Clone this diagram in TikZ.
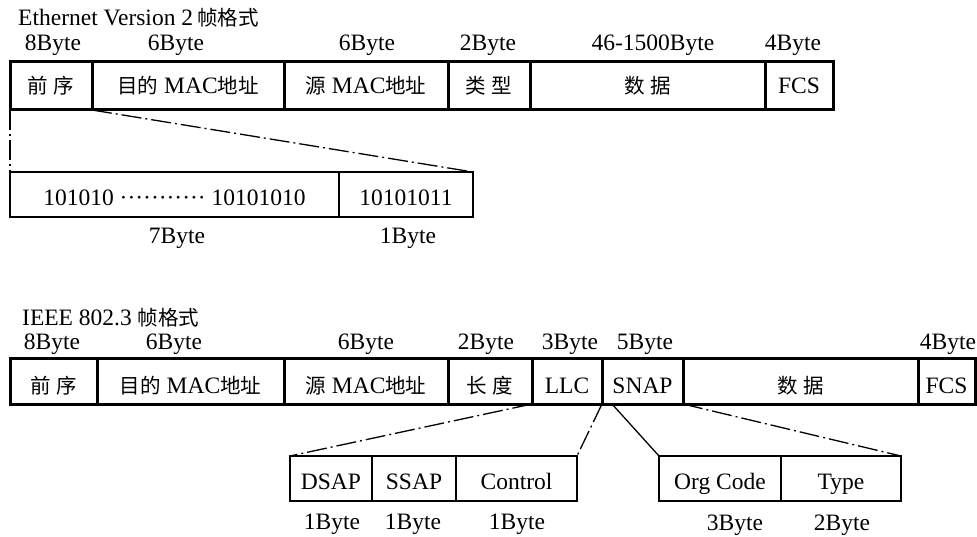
\documentclass[tikz,border=0pt]{standalone}
\usepackage{fontspec}
\setmainfont{Liberation Serif}
\newfontfamily\cjk{Noto Sans CJK SC}
\newcommand{\zh}[1]{{\cjk\fontsize{20.5pt}{24pt}\selectfont #1}}
\newcommand{\zs}{\hspace{6pt}}
\tikzset{
  field/.style={draw, rectangle, line width=3pt, inner sep=0pt, outer sep=0pt,
    anchor=north west, minimum height=48pt, text height=15pt, text depth=0pt},
  fieldb/.style={field, minimum height=46pt, text height=24pt},
  subfield/.style={draw, rectangle, line width=2.5pt, inner sep=0pt, outer sep=0pt,
    anchor=north west, minimum height=45pt, text height=22pt, text depth=0pt},
  lbl/.style={anchor=base, inner sep=0pt},
  ttl/.style={anchor=base west, inner sep=0pt},
  dashdot/.style={line width=1.3pt, dash pattern=on 20pt off 4pt on 2pt off 4pt},
  plainline/.style={line width=1.3pt}
}
\begin{document}
\begin{tikzpicture}[x=1pt,y=-1pt,font=\fontsize{23.5pt}{27pt}\selectfont]
\useasboundingbox (0,0) rectangle (977,537);

% ---------- Ethernet Version 2 ----------
\node[ttl] (t1) at (18,26) {Ethernet Version 2\hspace{4pt}\zh{帧格式}};
\node[lbl] (l1a) at (53,51) {8Byte};
\node[lbl] (l1b) at (176,51) {6Byte};
\node[lbl] (l1c) at (367,51) {6Byte};
\node[lbl] (l1d) at (488,51) {2Byte};
\node[lbl] (l1e) at (653,51) {46-1500Byte};
\node[lbl] (l1f) at (793,51) {4Byte};

\node[field, minimum width=82pt]  (pre1) at (10,62)  {\zh{前\zs 序}};
\node[field, minimum width=192pt] (dst1) at (92,62)  {\zh{目的} MAC\zh{地址}};
\node[field, minimum width=164pt] (src1) at (284,62) {\zh{源} MAC\zh{地址}};
\node[field, minimum width=82pt]  (typ1) at (448,62) {\zh{类\zs 型}};
\node[field, minimum width=235pt] (dat1) at (530,62) {\zh{数\zs 据}};
\node[field, minimum width=68pt]  (fcs1) at (765,62) {FCS};

\node[subfield, minimum width=329pt] (pa) at (10,172) {101010 ··········· 10101010};
\node[subfield, minimum width=134pt] (pb) at (339,172) {10101011};
\node[lbl] (l1g) at (177,244) {7Byte};
\node[lbl] (l1h) at (408,244) {1Byte};

\draw[dashdot] (pre1.south west) -- (pa.north west);
\draw[dashdot] (pre1.south east) -- (pb.north east);

% ---------- IEEE 802.3 ----------
\node[ttl] (t2) at (22,326) {IEEE 802.3\hspace{6pt}\zh{帧格式}};
\node[lbl] (l2a) at (52,349) {8Byte};
\node[lbl] (l2b) at (174,349) {6Byte};
\node[lbl] (l2c) at (366,349) {6Byte};
\node[lbl] (l2d) at (486,349) {2Byte};
\node[lbl] (l2e) at (570,349) {3Byte};
\node[lbl] (l2f) at (645,349) {5Byte};
\node[lbl] (l2g) at (948,349) {4Byte};

\node[fieldb, minimum width=87pt]  (pre2)  at (10,358)  {\zh{前\zs 序}};
\node[fieldb, minimum width=187pt] (dst2)  at (97,358)  {\zh{目的} MAC\zh{地址}};
\node[fieldb, minimum width=164pt] (src2)  at (284,358) {\zh{源} MAC\zh{地址}};
\node[fieldb, minimum width=84pt]  (len2)  at (448,358) {\zh{长\zs 度}};
\node[fieldb, minimum width=70pt]  (llc2)  at (532,358) {LLC};
\node[fieldb, minimum width=81pt]  (snap2) at (602,358) {SNAP};
\node[fieldb, minimum width=235pt] (dat2)  at (683,358) {\zh{数\zs 据}};
\node[fieldb, minimum width=57pt]  (fcs2)  at (918,358) {FCS};

\node[subfield, minimum width=82pt]  (dsap) at (290,456) {DSAP};
\node[subfield, minimum width=84pt]  (ssap) at (372,456) {SSAP};
\node[subfield, minimum width=121pt] (ctrl) at (456,456) {Control};
\node[lbl] (l2h) at (332,529) {1Byte};
\node[lbl] (l2i) at (413,529) {1Byte};
\node[lbl] (l2j) at (517,529) {1Byte};

\node[subfield, minimum width=122pt] (org)  at (659,456) {Org Code};
\node[subfield, minimum width=120pt] (typ2) at (781,456) {Type};
\node[lbl] (l2k) at (735,530) {3Byte};
\node[lbl] (l2l) at (842,530) {2Byte};

\draw[dashdot] (llc2.south west) -- (dsap.north west);
\draw[dashdot] (llc2.south east) -- (ctrl.north east);
\draw[plainline] ([xshift=10pt]snap2.south west) -- (org.north west);
\draw[dashdot] (snap2.south east) -- (typ2.north east);
\end{tikzpicture}
\end{document}
